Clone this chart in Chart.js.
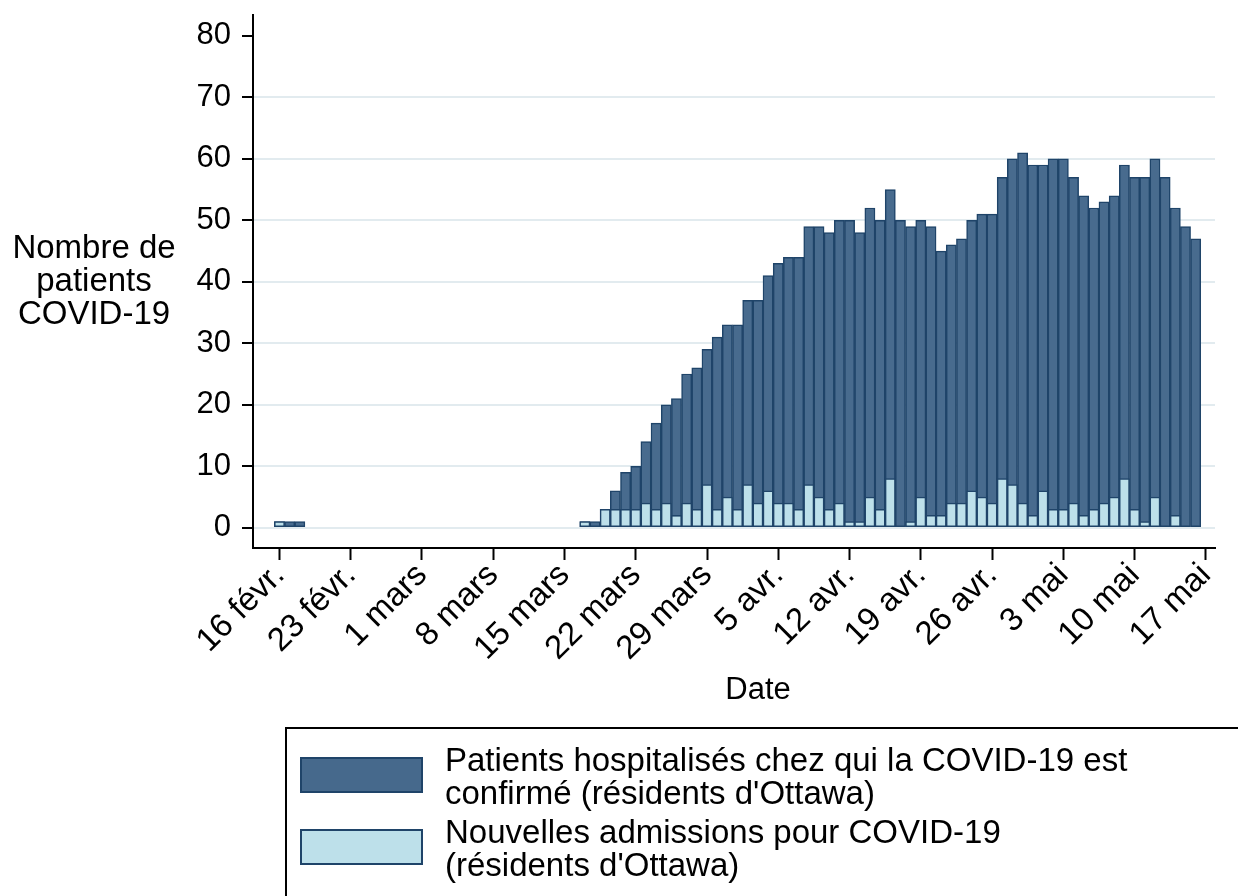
<!DOCTYPE html>
<html>
<head>
<meta charset="utf-8">
<script src="https://cdn.jsdelivr.net/npm/chart.js@4.4.1/dist/chart.umd.min.js"></script>
<style>
  body { margin: 0; background: #fff; }
  #wrap { position: relative; width: 1238px; height: 896px; overflow: hidden; font-family: "Liberation Sans", Arial, sans-serif; color: #000; }
  #c { position: absolute; left: 0; top: 0; }
  #ytitle { position: absolute; left: 0; width: 188px; top: 230px; text-align: center; font-size: 33px; line-height: 33px; }
  #xtitle { position: absolute; left: 658px; width: 200px; top: 671px; text-align: center; font-size: 31px; line-height: 36px; }
  #legend { position: absolute; left: 285px; top: 727px; width: 1000px; height: 220px; border: 2px solid #000; box-sizing: border-box; }
  .sw { position: absolute; left: 13px; width: 123px; height: 36px; box-sizing: border-box; border: 2px solid #1f4469; }
  .lt { position: absolute; left: 158px; font-size: 33px; line-height: 33px; white-space: nowrap; }
</style>
</head>
<body>
<div id="wrap">
  <canvas id="c" width="1238" height="896"></canvas>
  <div id="ytitle">Nombre de<br>patients<br>COVID-19</div>
  <div id="xtitle">Date</div>
  <div id="legend">
    <div class="sw" style="top:28px;background:#46698c;"></div>
    <div class="lt" style="top:14px;">Patients hospitalisés chez qui la COVID-19 est<br>confirmé (résidents d'Ottawa)</div>
    <div class="sw" style="top:100px;background:#bde0ea;"></div>
    <div class="lt" style="top:86px;">Nouvelles admissions pour COVID-19<br>(résidents d'Ottawa)</div>
  </div>
</div>
<script>
// day offsets of the x ticks, counted from 16 Feb 2020
const tickDays = [0, 7, 14, 21, 28, 35, 42, 49, 56, 63, 70, 77, 84, 91];
const tickLabels = ["16 févr.", "23 févr.", "1 mars", "8 mars", "15 mars", "22 mars", "29 mars",
  "5 avr.", "12 avr.", "19 avr.", "26 avr.", "3 mai", "10 mai", "17 mai"];
const yTicks = [0, 10, 20, 30, 40, 50, 60, 70, 80];

const dates = [
  "02-16", "02-17", "02-18",
  "03-17", "03-18", "03-19", "03-20", "03-21", "03-22", "03-23", "03-24", "03-25", "03-26",
  "03-27", "03-28", "03-29", "03-30", "03-31",
  "04-01", "04-02", "04-03", "04-04", "04-05", "04-06", "04-07", "04-08", "04-09", "04-10",
  "04-11", "04-12", "04-13", "04-14", "04-15", "04-16", "04-17", "04-18", "04-19", "04-20",
  "04-21", "04-22", "04-23", "04-24", "04-25", "04-26", "04-27", "04-28", "04-29", "04-30",
  "05-01", "05-02", "05-03", "05-04", "05-05", "05-06", "05-07", "05-08", "05-09", "05-10",
  "05-11", "05-12", "05-13", "05-14", "05-15", "05-16"
];
const hospitalized = [
  1, 1, 1,
  1, 1, 3, 6, 9, 10, 14, 17, 20, 21,
  25, 26, 29, 31, 33,
  33, 37, 37, 41, 43, 44, 44, 49, 49, 48,
  50, 50, 48, 52, 50, 55, 50, 49, 50, 49,
  45, 46, 47, 50, 51, 51, 57, 60, 61, 59,
  59, 60, 60, 57, 54, 52, 53, 54, 59, 57,
  57, 60, 57, 52, 49, 47
];
const admissions = [
  1, 0, 0,
  1, 0, 3, 3, 3, 3, 4, 3, 4, 2,
  4, 3, 7, 3, 5,
  3, 7, 4, 6, 4, 4, 3, 7, 5, 3,
  4, 1, 1, 5, 3, 8, 0, 1, 5, 2,
  2, 4, 4, 6, 5, 4, 8, 7, 4, 2,
  6, 3, 3, 4, 2, 3, 4, 5, 8, 3,
  1, 5, 0, 2, 0, 0
];

const DARK = "#486b8e", LIGHT = "#bde0ea", EDGE = "#1f4469";

function dayOf(md) {
  const [m, d] = md.split("-").map(Number);
  return (Date.UTC(2020, m - 1, d) - Date.UTC(2020, 1, 16)) / 86400000;
}
const xs = dates.map(dayOf);

const barStyle = { borderWidth: 1.5, borderSkipped: false, barPercentage: 1, categoryPercentage: 1, grouped: false };

new Chart(document.getElementById("c"), {
  type: "bar",
  data: {
    datasets: [
      { label: "Patients hospitalisés chez qui la COVID-19 est confirmé (résidents d'Ottawa)",
        data: xs.map((x, i) => ({ x, y: hospitalized[i] })),
        backgroundColor: DARK, borderColor: EDGE, order: 2, ...barStyle },
      { label: "Nouvelles admissions pour COVID-19 (résidents d'Ottawa)",
        data: xs.map((x, i) => ({ x, y: admissions[i] || null })),
        backgroundColor: LIGHT, borderColor: EDGE, order: 1, ...barStyle },
    ],
  },
  options: {
    responsive: false,
    animation: false,
    layout: { padding: { top: 15, right: 23, bottom: 184, left: 0 } },
    plugins: { legend: { display: false }, tooltip: { enabled: false } },
    scales: {
      x: {
        type: "linear", min: -2.6, max: 91.9, offset: false,
        afterBuildTicks: s => { s.ticks = tickDays.map(v => ({ value: v })); },
        afterFit: s => { s.height = 164; s.paddingLeft = 0; s.paddingRight = 0; },
        ticks: {
          autoSkip: false, minRotation: 45, maxRotation: 45, color: "#000", padding: -4,
          font: { family: "Liberation Sans", size: 33 },
          callback: (v, i) => tickLabels[i],
        },
        grid: { offset: false, drawOnChartArea: false, tickLength: 12, tickColor: "#000", tickWidth: 2 },
        border: { color: "#000", width: 2 },
      },
      y: {
        min: -3.3, max: 83.4,
        afterBuildTicks: s => { s.ticks = yTicks.map(v => ({ value: v })); },
        afterFit: s => { s.width = 253; s.paddingTop = 0; s.paddingBottom = 0; },
        ticks: { color: "#000", padding: 11, font: { family: "Liberation Sans", size: 31 } },
        grid: {
          color: c => (c.tick && c.tick.value === 80 ? "rgba(0,0,0,0)" : "#e2ebef"),
          lineWidth: 2, tickLength: 11, tickColor: "#000", tickWidth: 2,
        },
        border: { color: "#000", width: 2 },
      },
    },
  },
});
</script>
</body>
</html>
